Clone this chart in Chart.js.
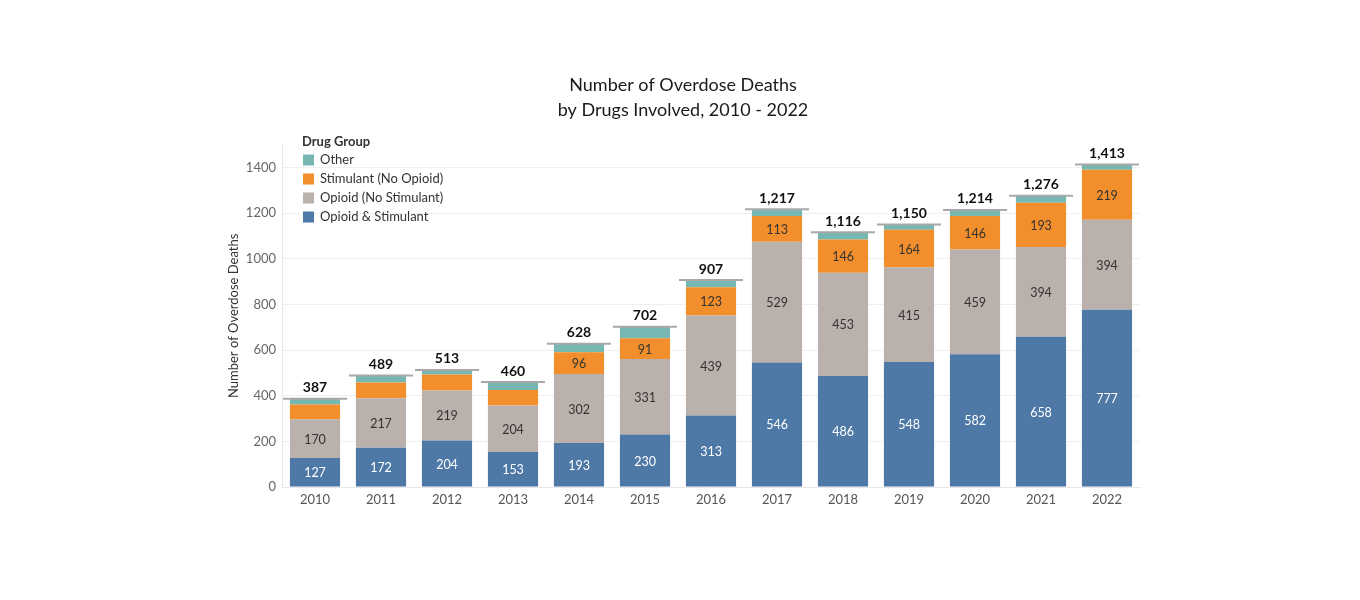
<!DOCTYPE html>
<html>
<head>
<meta charset="utf-8">
<script src="https://cdn.jsdelivr.net/npm/chart.js@4.4.1/dist/chart.umd.min.js"></script>
<style>
  html, body { margin: 0; padding: 0; background: #ffffff; }
  #wrap { width: 1360px; height: 600px; position: relative; }
</style>
</head>
<body>
<div id="wrap"><canvas id="c" width="1360" height="600"></canvas></div>
<script>
const years = ['2010','2011','2012','2013','2014','2015','2016','2017','2018','2019','2020','2021','2022'];
const opioidStimulant = [127,172,204,153,193,230,313,546,486,548,582,658,777];
const opioidNoStimulant = [170,217,219,204,302,331,439,529,453,415,459,394,394];
const stimulantNoOpioid = [64,69,70,68,96,91,123,113,146,164,146,193,219];
const other = [26,31,20,35,37,50,32,29,31,23,27,31,23];
const totals = [387,489,513,460,628,702,907,1217,1116,1150,1214,1276,1413];
const showStimLabel = [false,false,false,false,true,true,true,true,true,true,true,true,true];
const yTicks = [0,200,400,600,800,1000,1200,1400];

const FONT = 'Lato, "Open Sans", sans-serif';
const colors = {
  os: '#4e79a7',
  on: '#bab0ac',
  sn: '#f28e2b',
  ot: '#76b7b2'
};

const labelPlugin = {
  id: 'labels',
  afterDatasetsDraw(chart) {
    const ctx = chart.ctx;
    ctx.save();
    ctx.textAlign = 'center';
    ctx.textBaseline = 'middle';
    chart.data.datasets.forEach((ds, di) => {
      if (!ds.showLabels) return;
      const meta = chart.getDatasetMeta(di);
      meta.data.forEach((bar, i) => {
        if (ds.labelMask && !ds.labelMask[i]) return;
        const yc = (bar.y + bar.base) / 2;
        ctx.font = '12.5px ' + FONT;
        ctx.fillStyle = ds.labelColor;
        ctx.fillText(String(ds.data[i]), bar.x, yc + 1);
      });
    });
    const xs = chart.scales.x, ys = chart.scales.y;
    const step = xs.getPixelForValue(1) - xs.getPixelForValue(0);
    totals.forEach((t, i) => {
      const x = xs.getPixelForValue(i);
      const y = ys.getPixelForValue(t);
      ctx.strokeStyle = '#a8a8a8';
      ctx.lineWidth = 2;
      ctx.beginPath();
      ctx.moveTo(x - step / 2 + 1, y);
      ctx.lineTo(x + step / 2 - 1, y);
      ctx.stroke();
      ctx.font = 'bold 14px ' + FONT;
      ctx.fillStyle = '#111111';
      ctx.fillText(t.toLocaleString('en-US'), x, y - 11);
    });
    ctx.restore();
  },
  afterDraw(chart) {
    const ctx = chart.ctx;
    ctx.save();
    ctx.textAlign = 'left';
    ctx.textBaseline = 'middle';
    ctx.font = 'bold 13px ' + FONT;
    ctx.fillStyle = '#333333';
    ctx.fillText('Drug Group', 302, 142);
    const ds = chart.data.datasets.slice().reverse();
    ds.forEach((d, k) => {
      const yc = 160 + k * 19;
      ctx.fillStyle = d.backgroundColor;
      ctx.fillRect(303, yc - 5.5, 11, 11);
      ctx.font = '13px ' + FONT;
      ctx.fillStyle = '#333333';
      ctx.fillText(d.label, 320, yc);
    });
    ctx.restore();
  }
};

new Chart(document.getElementById('c'), {
  type: 'bar',
  data: {
    labels: years,
    datasets: [
      { label: 'Opioid & Stimulant', data: opioidStimulant, backgroundColor: colors.os, showLabels: true, labelColor: '#ffffff' },
      { label: 'Opioid (No Stimulant)', data: opioidNoStimulant, backgroundColor: colors.on, showLabels: true, labelColor: '#333333' },
      { label: 'Stimulant (No Opioid)', data: stimulantNoOpioid, backgroundColor: colors.sn, showLabels: true, labelColor: '#333333', labelMask: showStimLabel },
      { label: 'Other', data: other, backgroundColor: colors.ot, showLabels: false }
    ]
  },
  options: {
    responsive: false,
    animation: false,
    devicePixelRatio: 1,
    layout: { padding: { left: 226, right: 220, top: 73, bottom: 83 } },
    datasets: { bar: { categoryPercentage: 1.0, barPercentage: 0.76, borderWidth: 0 } },
    plugins: {
      legend: { display: false },
      tooltip: { enabled: false },
      title: {
        display: true,
        text: ['Number of Overdose Deaths', 'by Drugs Involved, 2010 - 2022'],
        font: { family: FONT, size: 18, weight: 'normal', lineHeight: 1.38 },
        color: '#1a1a1a',
        padding: { top: 0, bottom: 22 }
      }
    },
    scales: {
      x: {
        stacked: true,
        grid: { display: false, drawTicks: false },
        border: { display: true, color: '#e6e6e6' },
        ticks: { font: { family: FONT, size: 13 }, color: '#555555', padding: 5 },
        afterFit(s) { s.height = 30; }
      },
      y: {
        stacked: true,
        min: 0,
        max: 1500,
        afterBuildTicks(s) { s.ticks = yTicks.map(v => ({ value: v })); },
        ticks: {
          font: { family: FONT, size: 13 },
          color: '#666666',
          padding: 6,
          callback: (v) => String(v)
        },
        grid: { color: '#efefef', drawTicks: false },
        border: { display: true, color: '#e6e6e6' },
        title: {
          display: true,
          text: 'Number of Overdose Deaths',
          font: { family: FONT, size: 13 },
          color: '#333333',
          padding: { top: 0, bottom: 4 }
        },
        afterFit(s) { s.width = 56; }
      }
    }
  },
  plugins: [labelPlugin]
});
</script>
</body>
</html>
